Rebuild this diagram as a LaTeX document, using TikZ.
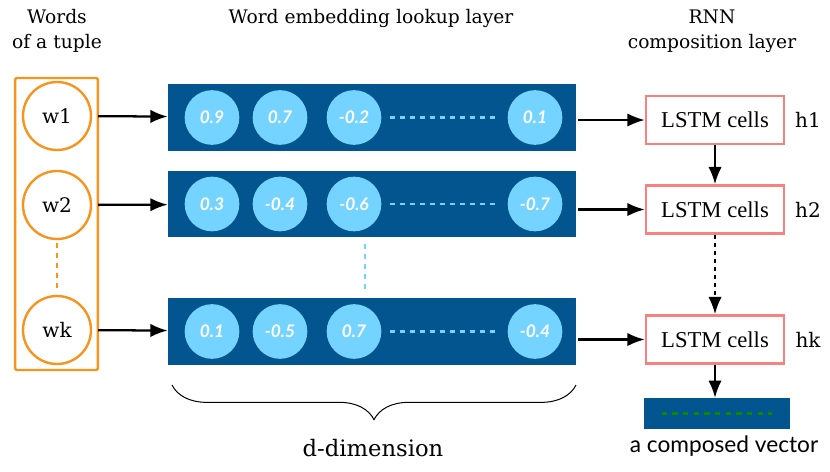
\documentclass[tikz,border=0pt]{standalone}
\usepackage{fontspec}
\usepackage{xcolor}
\usepackage{tikz}
\usetikzlibrary{arrows.meta, positioning, decorations.pathreplacing}

\setmainfont{Liberation Serif}
\newfontfamily\typefont{DejaVu Serif}
\newfontfamily\valuefont{Lato}

\definecolor{barblue}{HTML}{02558F}
\definecolor{cellblue}{HTML}{75D4FF}
\definecolor{tupleorange}{HTML}{F7941D}
\definecolor{lstmred}{HTML}{F8817F}
\definecolor{vecgreen}{HTML}{0B8A00}

\begin{document}
\begin{tikzpicture}[
        x=0.75pt, y=-0.75pt,
        head/.style={
            align=center,
            font=\typefont\fontsize{14}{19}\selectfont
        },
        word/.style={
            circle,
            draw=tupleorange,
            line width=1.8pt,
            minimum size=51pt,
            inner sep=0pt,
            font=\typefont\fontsize{15}{17}\selectfont
        },
        bar/.style={
            fill=barblue,
            minimum width=306pt,
            minimum height=50pt,
            inner sep=0pt
        },
        cell/.style={
            circle,
            fill=cellblue,
            minimum size=41pt,
            inner sep=0pt,
            text=white,
            font=\valuefont\bfseries\itshape\fontsize{13}{15}\selectfont
        },
        lstm/.style={
            draw=lstmred,
            line width=1.8pt,
            fill=white,
            minimum width=103.5pt,
            minimum height=36pt,
            inner sep=0pt,
            font=\fontsize{17}{19}\selectfont
        },
        arrow/.style={-{Latex[length=13pt, width=10pt]}, line width=1.7pt},
        dots/.style={cellblue, line width=1.8pt, dash pattern=on 4pt off 3.5pt}
    ]
        \useasboundingbox (0,0) rectangle (830,471);

        % titles
        \node[head] (wordstitle) at (57,31) {Words\\of a tuple};
        \node[head] (embtitle) at (371,18) {Word embedding lookup layer};
        \node[head] (rnntitle) at (712,31) {RNN\\composition layer};

        % words of the tuple
        \node[draw=tupleorange, line width=1.8pt, rounded corners=1pt, minimum width=62pt, minimum height=219pt] (tuple) at (56.5,224) {};
        \node[word] (w1) at (57,116) {w1};
        \node[word] (w2) at (57,205) {w2};
        \node[word] (wk) at (57,330) {wk};
        \draw[tupleorange, line width=1.8pt, dash pattern=on 4pt off 3.5pt, shorten <=2pt, shorten >=3pt] (w2) -- (wk);

        % embedding rows
        \node[bar] (bar1) at (372,117.5) {};
        \node[bar] (bar2) at (372,204) {};
        \node[bar] (bar3) at (372,331.5) {};

        \node[cell] (c11) at (212,117.5) {0.9};
        \node[cell] (c12) at (280,117.5) {0.7};
        \node[cell] (c13) at (354,117.5) {-0.2};
        \node[cell] (c14) at (535,117.5) {0.1};

        \node[cell] (c21) at (212,204) {0.3};
        \node[cell] (c22) at (280,204) {-0.4};
        \node[cell] (c23) at (354,204) {-0.6};
        \node[cell] (c24) at (535,204) {-0.7};

        \node[cell] (c31) at (212,331.5) {0.1};
        \node[cell] (c32) at (280,331.5) {-0.5};
        \node[cell] (c33) at (354,331.5) {0.7};
        \node[cell] (c34) at (535,331.5) {-0.4};

        \draw[dots, shorten <=6pt, shorten >=6pt] (c13) -- (c14);
        \draw[dots, shorten <=6pt, shorten >=6pt] (c23) -- (c24);
        \draw[dots, shorten <=6pt, shorten >=6pt] (c33) -- (c34);
        \draw[dots, shorten <=4.5pt, shorten >=6pt] ([xshift=-5.25pt]bar2.south) -- ([xshift=-5.25pt]bar3.north);

        \draw[arrow, shorten <=4.5pt] (w1) -- (bar1);
        \draw[arrow, shorten <=4.5pt] (w2) -- (bar2);
        \draw[arrow, shorten <=4.5pt] (wk) -- (bar3);

        % d-dimension brace
        \coordinate (bracel) at (172,385);
        \coordinate (bracer) at (576,385);
        \draw[decorate, decoration={brace, mirror, amplitude=26pt}, line width=0.75pt] (bracel) -- (bracer);
        \node[head, font=\typefont\fontsize{17}{20}\selectfont] (dlabel) at (373,448) {d-dimension};

        % composition layer
        \node[lstm] (lstm1) at (715,120) {LSTM cells};
        \node[lstm] (lstm2) at (715,209.5) {LSTM cells};
        \node[lstm] (lstmk) at (715,339.5) {LSTM cells};
        \node[head, font=\typefont\fontsize{15}{17}\selectfont] (h1) at (808,120) {h1};
        \node[head, font=\typefont\fontsize{15}{17}\selectfont] (h2) at (808,209.5) {h2};
        \node[head, font=\typefont\fontsize{15}{17}\selectfont] (hk) at (808,339.5) {hk};

        \draw[arrow, shorten <=1.5pt] (bar1.east |- lstm1) -- (lstm1);
        \draw[arrow, shorten <=1.5pt] (bar2.east |- lstm2) -- (lstm2);
        \draw[arrow, shorten <=1.5pt] (bar3.east |- lstmk) -- (lstmk);
        \draw[arrow] (lstm1) -- (lstm2);
        \draw[arrow, dash pattern=on 3pt off 3pt] (lstm2) -- (lstmk);

        % composed vector
        \node[fill=barblue, minimum width=109.5pt, minimum height=23pt, inner sep=0pt] (vec) at (717,413.5) {};
        \draw[vecgreen, line width=1.8pt, dash pattern=on 4pt off 4pt] ([xshift=13.5pt]vec.west) -- ([xshift=-13.5pt]vec.east);
        \draw[arrow] (lstmk) -- (lstmk |- vec.north);
        \node[font=\valuefont\fontsize{17}{19}\selectfont] (veclabel) at (724,446) {a composed vector};
    \end{tikzpicture}
\end{document}
